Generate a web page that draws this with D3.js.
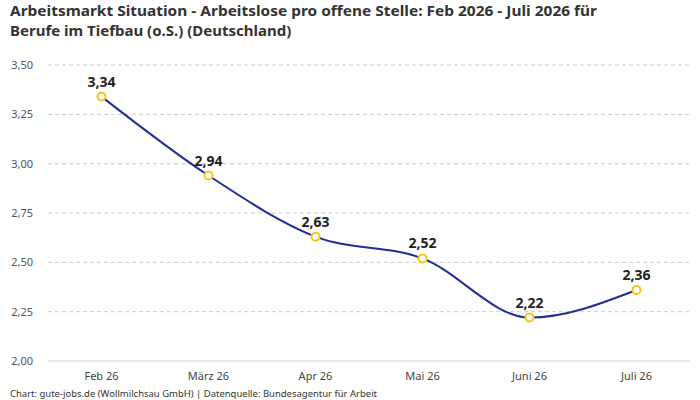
<!DOCTYPE html>
<html><head><meta charset="utf-8">
<script src="https://cdn.jsdelivr.net/npm/d3@7"></script>
<style>body{margin:0;background:#fff;font-family:"Noto Sans",Roboto,sans-serif;}</style>
</head><body><svg id="c" width="700" height="400"></svg>
<script>
const categories=["Feb 26","März 26","Apr 26","Mai 26","Juni 26","Juli 26"];
const values=[3.34,2.94,2.63,2.52,2.22,2.36];
const yTicks=[2.0,2.25,2.5,2.75,3.0,3.25,3.5];
const fmt=v=>d3.format(".2f")(v).replace(".",",");
const svg=d3.select("#c");
const x=d3.scalePoint().domain(categories).range([48,690]).padding(0.5);
const y=d3.scaleLinear().domain([2,3.5]).range([361,65]);
svg.append("text").attr("x",10).attr("y",16).attr("font-size",15).attr("font-weight","bold").attr("fill","#333")
 .attr("textLength",587).attr("lengthAdjust","spacingAndGlyphs")
 .text("Arbeitsmarkt Situation - Arbeitslose pro offene Stelle: Feb 2026 - Juli 2026 für");
svg.append("text").attr("x",10).attr("y",36).attr("font-size",15).attr("font-weight","bold").attr("fill","#333")
 .text("Berufe im Tiefbau (o.S.) (Deutschland)");
const g=svg.append("g");
yTicks.forEach(t=>{
 g.append("line").attr("x1",48).attr("x2",690).attr("y1",y(t)).attr("y2",y(t))
  .attr("stroke","#ccc").attr("stroke-dasharray",t===2?null:"4,3");
 g.append("text").attr("x",33).attr("y",y(t)+4).attr("text-anchor","end").attr("font-size",11).attr("fill","#555").text(fmt(t));
});
categories.forEach(c=>{
 g.append("text").attr("x",x(c)).attr("y",380).attr("text-anchor","middle").attr("font-size",11).attr("fill","#444").text(c);
});
const line=d3.line().x((d,i)=>x(categories[i])).y(d=>y(d)).curve(d3.curveMonotoneX);
g.append("path").attr("d",line(values)).attr("fill","none").attr("stroke","#1f2f96").attr("stroke-width",2);
values.forEach((v,i)=>{
 g.append("circle").attr("cx",x(categories[i])).attr("cy",y(v)).attr("r",4).attr("fill","#fff").attr("stroke","#f5c518").attr("stroke-width",2);
 g.append("text").attr("x",x(categories[i])).attr("y",y(v)-10).attr("text-anchor","middle").attr("font-size",14).attr("font-weight","bold").attr("fill","#222").text(fmt(v));
});
svg.append("text").attr("x",10).attr("y",397).attr("font-size",9.5).attr("fill","#333")
 .attr("textLength",367).attr("lengthAdjust","spacingAndGlyphs")
 .text("Chart: gute-jobs.de (Wollmilchsau GmbH) | Datenquelle: Bundesagentur für Arbeit");
</script></body></html>
